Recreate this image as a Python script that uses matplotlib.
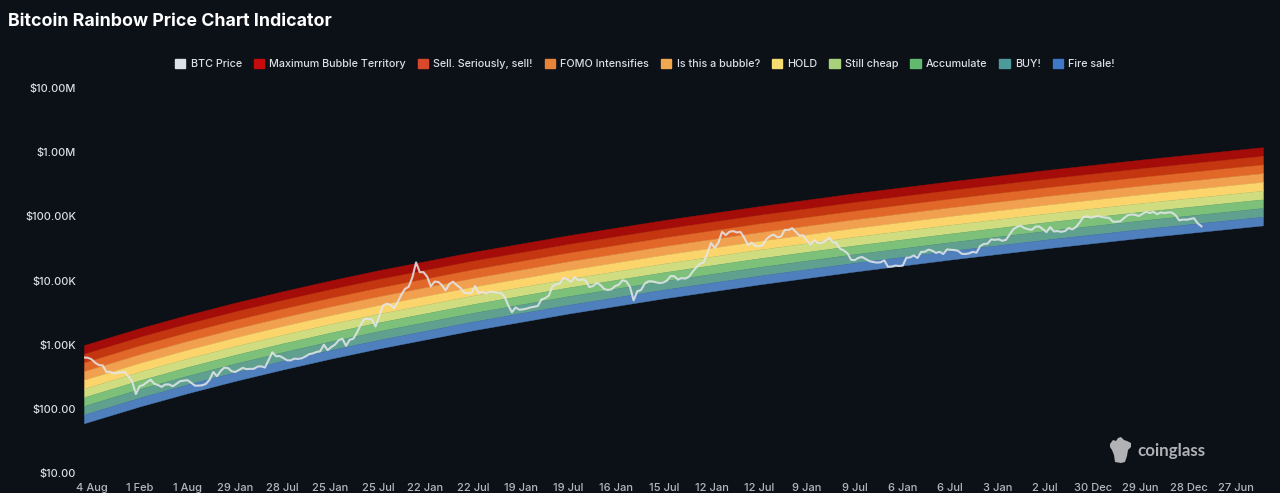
import pandas as pd
import matplotlib.pyplot as plt
from matplotlib.patches import Patch, Polygon
from matplotlib import rcParams
import matplotlib.dates as mdates

rcParams['font.family'] = ['Inter', 'DejaVu Sans']

# band edges, in USD, top edge first
band_dates = ['2014-07-05', '2015-02-01', '2015-08-01', '2016-01-29', '2016-07-28', '2017-01-25', '2017-07-25',
              '2018-07-22', '2019-07-19', '2020-07-15', '2021-07-12', '2022-07-09', '2023-07-06', '2024-07-02',
              '2025-06-29', '2026-06-27', '2026-10-07']
edge_0 = [986, 1807, 2900, 4508, 6790, 10000, 14400, 27900, 50700, 87500, 144000, 229000, 351000, 525000, 764000, 1086000, 1197000]
edge_1 = [722, 1323, 2126, 3300, 4972, 7321, 10510, 20400, 37120, 64060, 105600, 167300, 256800, 384200, 559200, 795400, 876100]
edge_2 = [528, 969, 1557, 2416, 3640, 5360, 7694, 14930, 27170, 46900, 77300, 122500, 188000, 281300, 409400, 582300, 641500]
edge_3 = [387, 709, 1140, 1769, 2665, 3924, 5633, 10930, 19890, 34330, 56590, 89690, 137600, 205900, 299700, 426300, 469600]
edge_4 = [283, 519, 834, 1295, 1951, 2873, 4124, 8004, 14570, 25140, 41430, 65670, 100800, 150800, 219400, 312100, 343800]
edge_5 = [207, 380, 611, 948, 1428, 2103, 3019, 5859, 10660, 18400, 30330, 48070, 73760, 110400, 160600, 228500, 251700]
edge_6 = [152, 278, 447, 694, 1046, 1540, 2211, 4291, 7808, 13470, 22210, 35200, 54020, 80820, 117600, 167300, 184300]
edge_7 = [111, 204, 327, 508, 765, 1127, 1618, 3140, 5714, 9861, 16250, 25760, 39530, 59150, 86080, 122400, 134900]
edge_8 = [81.3, 149, 240, 372, 560, 825, 1184, 2299, 4183, 7219, 11900, 18860, 28940, 43300, 63020, 89630, 98730]
edge_9 = [59.6, 109, 175, 272, 410, 604, 867, 1683, 3062, 5285, 8710, 13810, 21190, 31700, 46140, 65620, 72280]
band_edges = [edge_0, edge_1, edge_2, edge_3, edge_4, edge_5, edge_6, edge_7, edge_8, edge_9]

band_labels = ['Maximum Bubble Territory', 'Sell. Seriously, sell!', 'FOMO Intensifies', 'Is this a bubble?',
               'HOLD', 'Still cheap', 'Accumulate', 'BUY!', 'Fire sale!']
band_colors = ['#a30c08', '#c4360f', '#e2682a', '#f0a04f', '#fbd46c', '#cfdc80', '#7cc07a', '#5fa08e', '#4f80bd']
legend_colors = ['#c40c0e', '#d9482a', '#e8833a', '#f0a850', '#f5dd70', '#a9d07a', '#63b96e', '#4c9a9a', '#3f78c6']

# BTC price, one reading every 14 days from 6 Jul 2014
btc_price = [
    630, 625, 590, 520, 480, 475, 375, 380, 355, 365, 370, 375, 320,
    265, 170, 225, 235, 260, 285, 245, 235, 220, 240, 240, 225, 245, 270, 275, 280, 255, 230, 230, 233, 245, 285,
    375, 322, 390, 440,
    430, 385, 375, 405, 435, 415, 420, 420, 455, 460, 440, 575, 760, 660, 665, 620, 570, 570, 605, 600, 615, 655,
    710, 730, 770, 790,
    1000, 820, 920, 1000, 1170, 1240, 960, 1190, 1240, 1560, 2050, 2520, 2520, 2480, 1920, 2750, 4050, 4350, 4200,
    3700, 4600, 6000, 7400, 8000, 11200, 19200, 13500,
    13500, 11500, 8100, 9600, 9500, 8500, 7000, 8800, 9600, 8500, 7700, 6500, 6350, 6350, 8200, 6300, 6700, 6250,
    6700, 6600, 6500, 6400, 5600, 4100, 3200, 3800,
    3500, 3550, 3650, 3800, 3900, 4000, 5050, 5300, 5800, 8200, 8700, 9000, 11000, 10500, 9500, 11300, 10100, 10400,
    10000, 7900, 8200, 9200, 8500, 7400, 7100, 7300,
    8200, 8600, 10100, 9700, 8000, 4900, 6800, 7100, 8900, 9700, 9700, 9400, 9100, 9300, 9900, 11700, 11700, 10300,
    10900, 10700, 11400, 13700, 16000, 18200, 19200, 26500,
    38300, 32300, 38900, 57500, 51000, 57500, 58800, 56200, 57000, 46500, 35700, 39100, 34700, 34200, 35300, 43800,
    49300, 51800, 47200, 48200, 61500, 61300, 65400, 57200, 50000, 50800,
    41800, 36300, 42400, 38400, 38400, 41300, 46400, 39700, 38500, 31300, 29400, 26600, 21000, 20800, 22600, 23200,
    21500, 20000, 19400, 19000, 19200, 20600, 16300, 16500, 17100, 16800,
    17100, 22700, 22900, 24600, 22400, 27900, 28100, 30300, 29200, 26900, 28000, 25900, 30500, 30200, 29800, 29000,
    26100, 25900, 26500, 28000, 27100, 34500, 37100, 37500, 43700, 43000,
    43900, 41600, 43000, 52100, 63100, 68400, 71300, 65700, 63100, 61500, 69000, 69600, 63200, 56700, 68200, 58100,
    58900, 57300, 59000, 65600, 62800, 68000, 80400, 97900, 100000, 95200,
    98300, 101000, 97700, 96100, 94200, 82600, 82400, 83700, 93700, 104000, 107000, 105700, 101000, 108900, 118000,
    113000, 117500, 108000, 115000, 112000, 115000, 114500, 104000, 86500, 89000, 88500,
    91000, 93500, 78000, 70000,
]
btc_dates = pd.date_range('2014-07-06', periods=len(btc_price), freq='14D')

y_ticks = [10, 100, 1000, 10000, 100000, 1000000, 10000000]
y_labels = ['$10.00', '$100.00', '$1.00K', '$10.00K', '$100.00K', '$1.00M', '$10.00M']
x_ticks = ['2014-08-04', '2015-02-01', '2015-08-01', '2016-01-29', '2016-07-28', '2017-01-25', '2017-07-25',
           '2018-01-22', '2018-07-22', '2019-01-19', '2019-07-19', '2020-01-16', '2020-07-15', '2021-01-12',
           '2021-07-12', '2022-01-09', '2022-07-09', '2023-01-06', '2023-07-06', '2024-01-03', '2024-07-02',
           '2024-12-30', '2025-06-29', '2025-12-28', '2026-06-27']
x_labels = ['4 Aug', '1 Feb', '1 Aug', '29 Jan', '28 Jul', '25 Jan', '25 Jul', '22 Jan', '22 Jul', '19 Jan',
            '19 Jul', '16 Jan', '15 Jul', '12 Jan', '12 Jul', '9 Jan', '9 Jul', '6 Jan', '6 Jul', '3 Jan',
            '2 Jul', '30 Dec', '29 Jun', '28 Dec', '27 Jun']

bg = '#0c1017'
W, H = 1280, 493
fig = plt.figure(figsize=(W / 100, H / 100), dpi=100, facecolor=bg)
ax = fig.add_axes([84 / W, (H - 473) / H, (1263 - 84) / W, 385 / H], facecolor=bg)

bd = pd.to_datetime(band_dates)
for i in range(len(band_colors)):
    ax.fill_between(bd, band_edges[i + 1], band_edges[i], color=band_colors[i], lw=0.3)
ax.plot(btc_dates, btc_price, color='#e4e7ec', lw=1.5, alpha=0.85, solid_joinstyle='round')

ax.set_yscale('log')
ax.set_ylim(10, 10000000)
ax.set_xlim(bd[0], bd[-1])
ax.set_yticks(y_ticks)
ax.set_yticklabels(y_labels, fontweight='medium')
ax.minorticks_off()
ax.set_xticks(mdates.date2num(pd.to_datetime(x_ticks)))
ax.set_xticklabels(x_labels, fontweight='medium')
ax.tick_params(axis='y', length=0, pad=5.8, labelsize=7.9, labelcolor='#dcdfe3')
ax.tick_params(axis='x', length=0, pad=7, labelsize=8, labelcolor='#b4b8be')
for s in ax.spines.values():
    s.set_visible(False)

fig.text(8 / W, 1 - 21 / H, 'Bitcoin Rainbow Price Chart Indicator', color='white', fontsize=12.8,
         fontweight='bold', va='center', ha='left')

handles = [Patch(color='#dde2ea', label='BTC Price')]
for c, lab in zip(legend_colors, band_labels):
    handles.append(Patch(color=c, label=lab))
fig.legend(handles=handles, ncol=10, loc='center', bbox_to_anchor=(645 / W, 1 - 64 / H), frameon=False,
           prop={'size': 7.75, 'weight': 'medium'}, labelcolor='#dcdfe3', handlelength=0.95, handleheight=0.95,
           handletextpad=0.5, columnspacing=1.1, borderpad=0)

# watermark
logo_x = [1110, 1113, 1116, 1118, 1121, 1124, 1127, 1131, 1131, 1128, 1127, 1125, 1121, 1115, 1114, 1112, 1110]
logo_y = [444, 440, 441, 438, 437, 440, 441, 443, 447, 450, 456, 462, 463, 462, 455, 450, 447]
logo = [(x / W, 1 - y / H) for x, y in zip(logo_x, logo_y)]
fig.add_artist(Polygon(logo, closed=True, transform=fig.transFigure, facecolor='#b0b2b5', edgecolor='none'))
fig.text(1137 / W, 1 - 451 / H, 'coinglass', color='#b0b2b5', fontsize=12.2, fontweight='bold',
         va='center', ha='left', family=['Lato', 'DejaVu Sans'])

fig.savefig('out.png', dpi=100, facecolor=bg)
